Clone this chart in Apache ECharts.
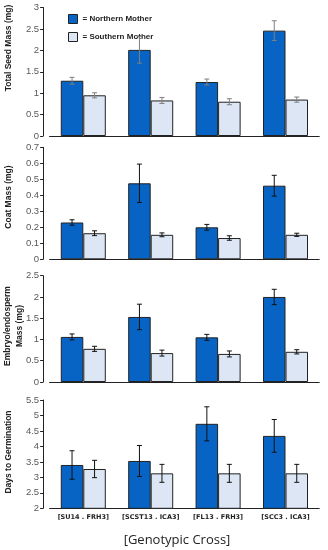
<!DOCTYPE html>
<html><head><meta charset="utf-8">
<script src="https://cdn.jsdelivr.net/npm/echarts@6/dist/echarts.min.js"></script>
<style>html,body{margin:0;padding:0;background:#fff}#c{width:328px;height:550px}</style>
</head><body><div id="c"></div>
<script>
var categories = ['[SU14 . FRH3]', '[SCST13 . ICA3]', '[FL13 . FRH3]', '[SCC3 . ICA3]'];
var seriesNames = ['Northern Mother', 'Southern Mother'];

var seedN = [1.29, 2.01, 1.26, 2.46];
var seedNErr = [0.08, 0.31, 0.07, 0.23];
var seedS = [0.95, 0.83, 0.80, 0.85];
var seedSErr = [0.06, 0.07, 0.07, 0.06];

var coatN = [0.23, 0.475, 0.20, 0.46];
var coatNErr = [0.017, 0.12, 0.018, 0.065];
var coatS = [0.163, 0.153, 0.133, 0.153];
var coatSErr = [0.015, 0.012, 0.014, 0.01];

var embN = [1.06, 1.53, 1.05, 2.0];
var embNErr = [0.07, 0.30, 0.07, 0.18];
var embS = [0.78, 0.68, 0.66, 0.71];
var embSErr = [0.06, 0.07, 0.07, 0.05];

var dayN = [3.40, 3.53, 4.73, 4.34];
var dayNErr = [0.46, 0.50, 0.55, 0.53];
var dayS = [3.27, 3.13, 3.13, 3.13];
var daySErr = [0.28, 0.29, 0.29, 0.29];

var yNames = ['Total Seed Mass (mg)', 'Coat Mass (mg)', 'Embryo/endosperm\nMass (mg)', 'Days to Germination'];
var yMin = [0, 0, 0, 2];
var yMax = [3, 0.7, 2.5, 5.5];
var yInt = [0.5, 0.1, 0.5, 0.5];
var xTitle = '[Genotypic Cross]';

var panels = [
  {n: seedN, ne: seedNErr, s: seedS, se: seedSErr, top: 7.5, h: 128.5, errColor: '#7f7f7f', nameY: 48, nameX: 9},
  {n: coatN, ne: coatNErr, s: coatS, se: coatSErr, top: 147.3, h: 112, errColor: '#111', nameY: 197, nameX: 9},
  {n: embN, ne: embNErr, s: embS, se: embSErr, top: 275.7, h: 106.3, errColor: '#111', nameY: 326, nameX: 14},
  {n: dayN, ne: dayNErr, s: dayS, se: daySErr, top: 400, h: 108.3, errColor: '#111', nameY: 452, nameX: 9}
];

var colN = '#0864c4', colS = '#dce6f4';
var gridLeft = 49.6, gridW = 269.6;

var grids = [], xAxes = [], yAxes = [], series = [], graphics = [];

function errSeries(i, vals, errs, side, color) {
  var d = vals.map(function (v, k) { return [k, v, errs[k]]; });
  return {
    type: 'custom', xAxisIndex: i, yAxisIndex: i, z: 10, silent: true,
    data: d,
    renderItem: function (params, api) {
      var k = api.value(0), v = api.value(1), e = api.value(2);
      var band = api.size([1, 0])[0];
      var c = api.coord([k, v]);
      var x = c[0] + side * band * 0.167;
      var yt = api.coord([k, v + e])[1];
      var yb = api.coord([k, v - e])[1];
      var cap = 2.5;
      var st = {stroke: color, lineWidth: 1};
      return {type: 'group', children: [
        {type: 'line', shape: {x1: x, y1: yt, x2: x, y2: yb}, style: st},
        {type: 'line', shape: {x1: x - cap, y1: yt, x2: x + cap, y2: yt}, style: st},
        {type: 'line', shape: {x1: x - cap, y1: yb, x2: x + cap, y2: yb}, style: st}
      ]};
    }
  };
}

panels.forEach(function (p, i) {
  grids.push({left: gridLeft, width: gridW, top: p.top, height: p.h});
  xAxes.push({
    type: 'category', gridIndex: i, data: categories,
    axisLine: {lineStyle: {color: '#222', width: 1.2}},
    axisTick: {show: false},
    axisLabel: {show: i === 3, interval: 0, hideOverlap: false, margin: 6, fontSize: 6.5, fontWeight: 'bold', color: '#222', fontFamily: 'DejaVu Sans'}
  });
  yAxes.push({
    type: 'value', gridIndex: i, min: yMin[i], max: yMax[i], interval: yInt[i],
    offset: 6.5,
    axisLine: {show: true, lineStyle: {color: '#222', width: 1}},
    axisTick: {show: true, length: 3, lineStyle: {color: '#222'}},
    splitLine: {show: false},
    axisLabel: {fontSize: 9.5, color: '#595959', margin: 4, fontFamily: 'Liberation Sans'}
  });
  series.push({
    name: seriesNames[0], type: 'bar', xAxisIndex: i, yAxisIndex: i, data: p.n,
    barWidth: '33.4%', barGap: '0%',
    itemStyle: {color: colN, borderColor: '#222', borderWidth: 1}
  });
  series.push({
    name: seriesNames[1], type: 'bar', xAxisIndex: i, yAxisIndex: i, data: p.s,
    barWidth: '33.4%', barGap: '0%',
    itemStyle: {color: colS, borderColor: '#222', borderWidth: 1}
  });
  series.push(errSeries(i, p.n, p.ne, -1, p.errColor));
  series.push(errSeries(i, p.s, p.se, 1, p.errColor));
  graphics.push({
    type: 'text', x: p.nameX, y: p.nameY, rotation: Math.PI / 2,
    style: {text: yNames[i], fill: '#222', font: 'bold 8.5px "Liberation Sans"', textAlign: 'center', textVerticalAlign: 'middle', lineHeight: 12}
  });
});

graphics.push({
  type: 'text', x: 177, y: 540,
  style: {text: xTitle, fill: '#222', font: '13px "Open Sans"', textAlign: 'center', textVerticalAlign: 'middle'}
});

var chart = echarts.init(document.getElementById('c'), null, {renderer: 'canvas'});
chart.setOption({
  animation: false,
  backgroundColor: '#fff',
  legend: {
    data: seriesNames, orient: 'vertical', left: 63, top: 9, itemGap: 8,
    icon: 'rect', itemWidth: 9, itemHeight: 9,
    formatter: '= {name}',
    textStyle: {fontSize: 8, fontWeight: 'bold', color: '#222', fontFamily: 'Liberation Sans'},
    itemStyle: {borderColor: '#222', borderWidth: 1}
  },
  grid: grids, xAxis: xAxes, yAxis: yAxes, series: series, graphic: graphics
});
</script></body></html>
